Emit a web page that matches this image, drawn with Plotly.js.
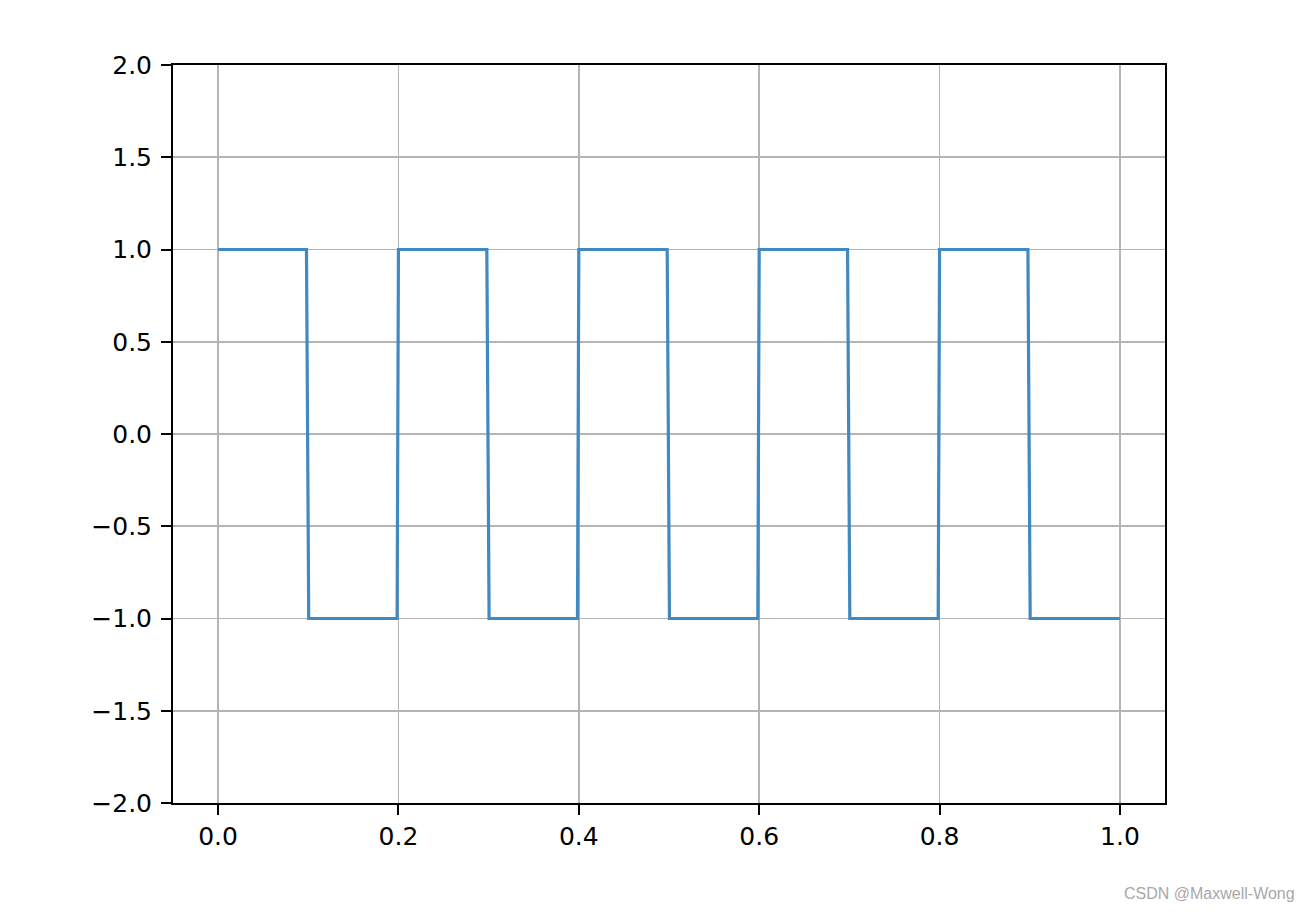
<!DOCTYPE html>
<html>
<head>
<meta charset="utf-8">
<script src="https://cdn.plot.ly/plotly-3.0.1.min.js"></script>
<style>
  html, body { margin: 0; padding: 0; background: #fff; }
  #myDiv { width: 1312px; height: 914px; }
</style>
</head>
<body>
<div id="myDiv"></div>
<script>
// square wave, period 0.2
var t = [0, 0.098, 0.1005, 0.1985, 0.2, 0.298, 0.3005, 0.3985, 0.4, 0.498, 0.5005,
         0.5985, 0.6, 0.698, 0.7005, 0.7985, 0.8, 0.898, 0.9005, 1.0];
var amp = [1, 1, -1, -1, 1, 1, -1, -1, 1, 1, -1, -1, 1, 1, -1, -1, 1, 1, -1, -1];

var xTicks = [0, 0.2, 0.4, 0.6, 0.8, 1.0];
var yTicks = [-2, -1.5, -1, -0.5, 0, 0.5, 1, 1.5, 2];

var trace1 = {
  x: t,
  y: amp,
  type: 'scatter',
  mode: 'lines',
  line: { color: '#4189c0', width: 3.2 },
  hoverinfo: 'skip'
};

var axisBase = {
  showline: true,
  linecolor: '#000',
  linewidth: 2,
  mirror: true,
  ticks: 'outside',
  ticklen: 10,
  tickwidth: 2,
  tickcolor: '#000',
  showgrid: true,
  gridcolor: '#b4b4b4',
  gridwidth: 1.6,
  zeroline: false,
  tickformat: '.1f',
  tickfont: { family: 'DejaVu Sans', size: 25, color: '#000' },
  fixedrange: true
};

var layout = {
  width: 1312,
  height: 914,
  margin: { l: 173, r: 147, t: 65, b: 111 },
  paper_bgcolor: '#fff',
  plot_bgcolor: '#fff',
  showlegend: false,
  xaxis: Object.assign({}, axisBase, {
    range: [-0.05, 1.05],
    tickvals: xTicks
  }),
  yaxis: Object.assign({}, axisBase, {
    range: [-2, 2],
    tickvals: yTicks,
    ticklabelstandoff: 4
  }),
  annotations: [{
    text: 'CSDN @Maxwell-Wong',
    xref: 'paper', yref: 'paper',
    x: 1.133, y: -0.122,
    xanchor: 'right', yanchor: 'middle',
    showarrow: false,
    font: { family: 'Liberation Sans', size: 16, color: '#a8a8a8' }
  }]
};

Plotly.newPlot('myDiv', [trace1], layout, { displayModeBar: false, staticPlot: true });
</script>
</body>
</html>
